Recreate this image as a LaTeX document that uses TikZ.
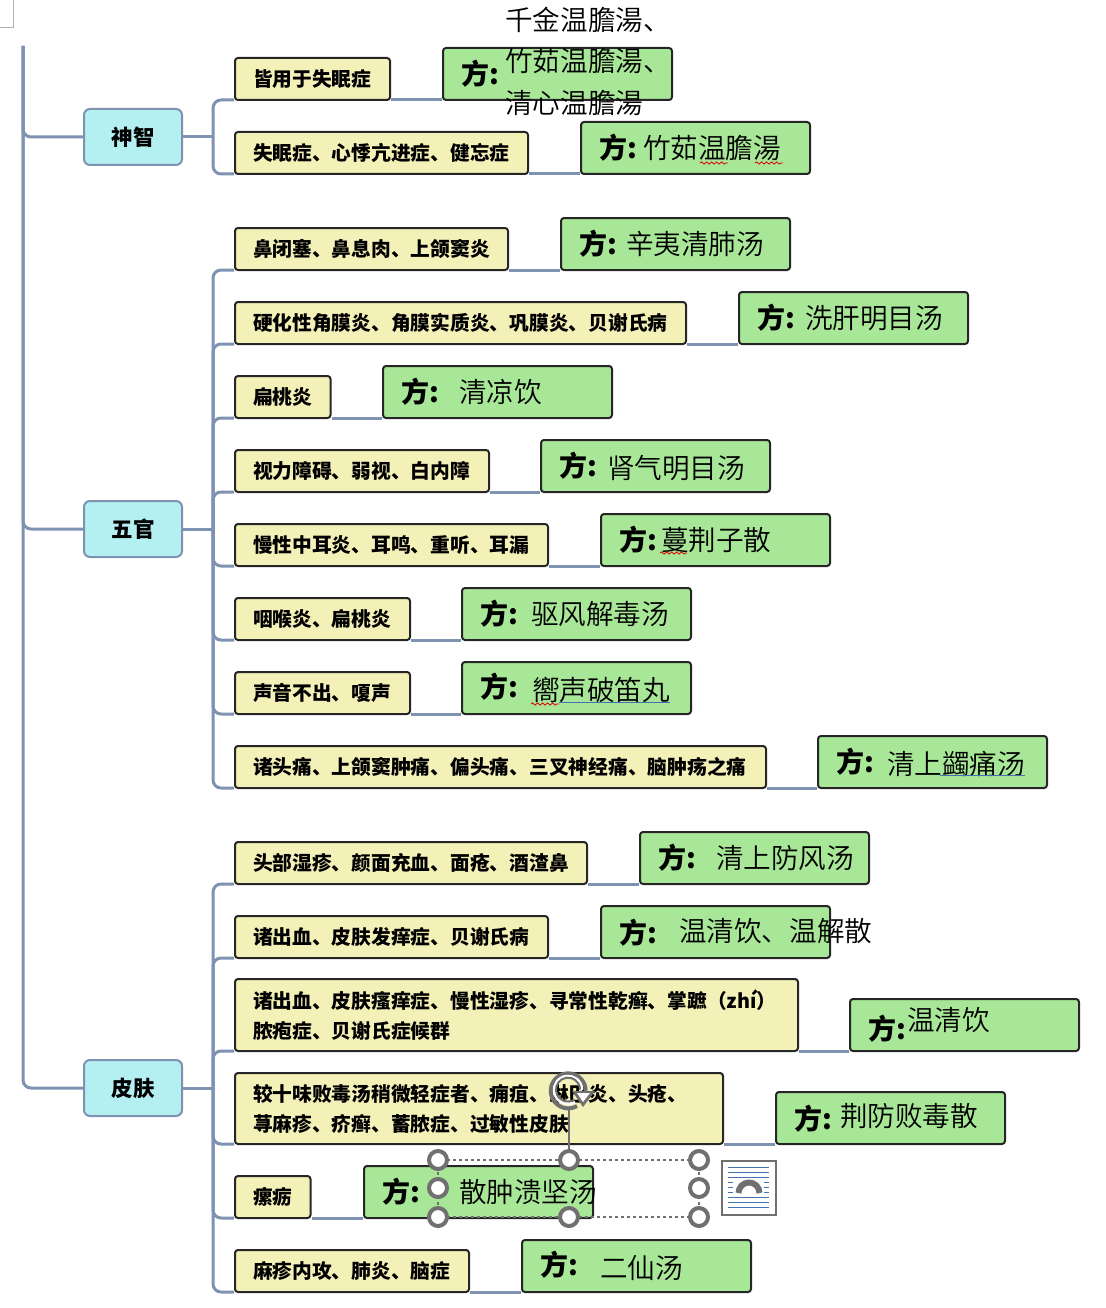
\documentclass[tikz,border=0pt]{standalone}
\usepackage{fontspec}
\setmainfont{Noto Sans CJK SC}
\newfontfamily\thinfont{Noto Sans CJK SC DemiLight}
\usetikzlibrary{arrows.meta,positioning,decorations.pathmorphing,backgrounds}
\definecolor{softyellow}{RGB}{244,241,184}
\definecolor{softgreen}{RGB}{168,231,151}
\definecolor{softcyan}{RGB}{180,240,242}
\definecolor{linkblue}{RGB}{126,146,178}
\definecolor{handlegray}{RGB}{112,112,112}
\definecolor{iconblue}{RGB}{68,114,176}
\tikzset{
  catbox/.style={draw=linkblue, line width=2pt, rounded corners=6pt, fill=softcyan, minimum width=98pt, minimum height=56pt, inner sep=0pt, font=\fontsize{21.5}{26}\selectfont\bfseries},
  symbox/.style={draw=black!85, line width=2pt, rounded corners=3pt, fill=softyellow, anchor=south west, xshift=-1pt, yshift=-1pt, inner xsep=18pt, inner ysep=0pt, minimum height=42pt, align=left, font=\fontsize{19.74}{30}\selectfont\bfseries},
  fangbox/.style={draw=black!85, line width=2pt, rounded corners=3pt, fill=softgreen, anchor=south west, xshift=-1pt, yshift=-1pt, inner sep=0pt, minimum width=229pt, minimum height=52pt},
  link/.style={draw=linkblue, line width=3pt, rounded corners=8pt},
  handle/.style={circle, draw=handlegray, line width=4pt, fill=white, inner sep=0pt, minimum size=18pt},
  squiggle/.style={red!85!black, line width=0.8pt, decorate, decoration={snake, amplitude=1.1pt, segment length=5pt}}
}
\newcommand{\fangname}[3]{\makebox[229pt][l]{\hspace*{18pt}\makebox[#1pt][l]{\fontsize{28}{30}\selectfont\bfseries 方:}\raisebox{#2pt}{\fontsize{27.6}{30}\selectfont\thinfont #3}}}
\begin{document}
\begin{tikzpicture}[x=1pt, y=-1pt]
  \useasboundingbox (0,0) rectangle (1105,1308);
  \draw[black!30, line width=1pt] (0,28) -- (13,28) -- (13,0);

  % main stems
  \node[catbox] (shenzhi) at (133,137) {神智};
  \node[catbox] (wuguan) at (133,529) {五官};
  \node[catbox] (pifu) at (133,1088) {皮肤};
  \coordinate (trunk) at (23,46);
  \coordinate (brone) at (213,137);
  \coordinate (brtwo) at (213,529);
  \coordinate (brthree) at (213,1088);
  \draw[link] (trunk) |- (shenzhi.west);
  \draw[link] (trunk) |- (wuguan.west);
  \draw[link] (trunk) |- (pifu.west);
  \draw[link] (shenzhi.east) -- (brone);
  \draw[link] (wuguan.east) -- (brtwo);
  \draw[link] (pifu.east) -- (brthree);

  % symptom boxes
  \foreach \sname/\sbot/\swidth/\stext in {
    sa/100/119/皆用于失眠症,
    sb/174/257/失眠症、心悸亢进症、健忘症,
    sc/270/237/鼻闭塞、鼻息肉、上颌窦炎,
    sd/344/415/硬化性角膜炎、角膜实质炎、巩膜炎、贝谢氏病,
    se/418/59.5/扁桃炎,
    sf/492/218/视力障碍、弱视、白内障,
    sg/566/277/慢性中耳炎、耳鸣、重听、耳漏,
    sh/640/139/咽喉炎、扁桃炎,
    si/714/139/声音不出、嗄声,
    sj/788/495/诸头痛、上颌窦肿痛、偏头痛、三叉神经痛、脑肿疡之痛,
    sk/884/316/头部湿疹、颜面充血、面疮、酒渣鼻,
    sl/958/277/诸出血、皮肤发痒症、贝谢氏病,
    so/1218/39.5/瘰疬,
    sp/1292/198/麻疹内攻、肺炎、脑症}
    \node[symbox, text width=\swidth pt] (\sname) at (235,\sbot) {\stext};
  \node[symbox, minimum height=72pt, text width=527pt] (sm) at (235,1051) {诸出血、皮肤瘙痒症、慢性湿疹、寻常性乾癣、掌蹠（zhí）\\脓疱症、贝谢氏症候群};
  \node[symbox, minimum height=71pt, text width=452pt] (sn) at (235,1144) {较十味败毒汤稍微轻症者、痈疽、淋巴炎、头疮、\\荨麻疹、疥癣、蓄脓症、过敏性皮肤};

  % formula boxes
  \node[fangbox] (fa) at (443,100) {\fangname{44}{0}{}};
  \node[fangbox] (fb) at (581,174) {\fangname{44}{0}{竹茹温膽湯}};
  \node[fangbox] (fc) at (561,270) {\fangname{47}{0}{辛夷清肺汤}};
  \node[fangbox] (fd) at (739,344) {\fangname{48}{0}{洗肝明目汤}};
  \node[fangbox] (fe) at (383,418) {\fangname{58}{0}{清凉饮}};
  \node[fangbox] (ff) at (541,492) {\fangname{48}{-2}{肾气明目汤}};
  \node[fangbox] (fg) at (601,566) {\fangname{42}{0}{蔓荆子散}};
  \node[fangbox] (fh) at (462,640) {\fangname{51}{0}{驱风解毒汤}};
  \node[fangbox] (fi) at (462,714) {\fangname{52}{-3}{嚮声破笛丸}};
  \node[fangbox] (fj) at (818,788) {\fangname{51}{-2}{清上蠲痛汤}};
  \node[fangbox] (fk) at (640,884) {\fangname{58}{0}{清上防风汤}};
  \node[fangbox] (fl) at (601,958) {\fangname{60}{2}{温清饮、温解散}};
  \node[fangbox] (fm) at (850,1051) {\fangname{39}{9}{温清饮}};
  \node[fangbox] (fn) at (776,1144) {\fangname{46}{3}{荆防败毒散}};
  \node[fangbox] (fo) at (364,1218) {\fangname{77}{0}{散肿溃坚汤}};
  \node[fangbox] (fp) at (522,1292) {\fangname{60}{-3}{二仙汤}};
  \node[anchor=west, inner sep=0pt, align=left, font=\fontsize{27.6}{41.5}\selectfont\thinfont] (fatext) at (505,61) {千金温膽湯、\\竹茹温膽湯、\\清心温膽湯};

  % branches
  \begin{scope}[on background layer]
  \foreach \sname/\fname/\brname in {sa/fa/brone, sb/fb/brone, sc/fc/brtwo, sd/fd/brtwo, se/fe/brtwo, sf/ff/brtwo, sg/fg/brtwo, sh/fh/brtwo, si/fi/brtwo, sj/fj/brtwo, sk/fk/brthree, sl/fl/brthree, sm/fm/brthree, sn/fn/brthree, so/fo/brthree, sp/fp/brthree} {
    \draw[link] (\brname) |- ([yshift=1pt]\sname.south west);
    \draw[link] ([yshift=1pt]\sname.south east) -- ([yshift=1pt]\fname.south west);
  }
  \end{scope}

  % proofing marks
  \draw[squiggle] (700,163) -- (728,163);
  \draw[squiggle] (755,163) -- (783,163);
  \draw[squiggle] (660,553) -- (687,553);
  \draw[squiggle] (531,704) -- (559,704);
  \draw[iconblue, line width=0.8pt] (559,702) -- (670,702);
  \draw[iconblue, line width=0.8pt] (940,775) -- (1025,775);

  % selection frame
  \coordinate (rotpin) at (569,1108);
  \draw[handlegray, line width=1.5pt, dashed] (438,1160) rectangle (699,1217);
  \draw[handlegray, line width=1.5pt] (rotpin) -- (569,1160);
  \foreach \hx/\hy [count=\hi] in {438/1160, 569/1160, 699/1160, 438/1188, 699/1188, 438/1217, 569/1217, 699/1217}
    \node[handle] (h\hi) at (\hx,\hy) {};
  \draw[handlegray, line width=4pt] (577,1106) arc[start angle=60, end angle=360, radius=17.5];
  \draw[white, line width=2.5pt] (575,1102) arc[start angle=60, end angle=360, radius=14];
  \draw[handlegray, line width=2pt] (574,1100) arc[start angle=60, end angle=360, radius=12];
  \fill[handlegray] (572,1091) -- (595,1091) -- (583,1107) -- cycle;
  \fill[white] (577,1093) -- (590,1093) -- (583,1102) -- cycle;

  % layout icon
  \draw[handlegray, line width=2.5pt, fill=white] (722,1161) rectangle (776,1215);
  \foreach \ly in {1167,1172,1177,1197,1202,1207}
    \draw[iconblue, line width=1pt] (728,\ly) -- (769,\ly);
  \foreach \ly in {1182,1187,1192} {
    \draw[iconblue, line width=1pt] (728,\ly) -- (733,\ly);
    \draw[iconblue, line width=1pt] (764,\ly) -- (769,\ly);
  }
  \draw[handlegray, line width=6pt] (738.5,1193) arc[start angle=180, end angle=360, radius=10.5];
\end{tikzpicture}
\end{document}
